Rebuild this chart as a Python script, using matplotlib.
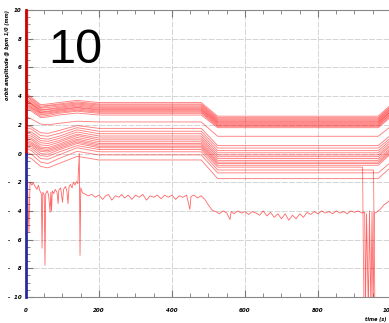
import matplotlib
matplotlib.use('Agg')
import matplotlib.pyplot as plt
from matplotlib.ticker import MultipleLocator, FixedLocator

# breakpoints (time) shared by the smooth orbit traces
xb = [0, 15, 40, 60, 90, 140, 200, 480, 525, 965, 1000]

upper_band = [
    [4.2, 3.9, 3.4, 3.45, 3.55, 3.7, 3.55, 3.55, 2.6, 2.6, 3.4],
    [4.0, 3.8, 3.3, 3.35, 3.45, 3.6, 3.45, 3.45, 2.5, 2.5, 3.3],
    [4.1, 3.7, 3.2, 3.3, 3.38, 3.52, 3.38, 3.38, 2.42, 2.42, 3.25],
    [3.9, 3.6, 3.15, 3.2, 3.3, 3.45, 3.3, 3.3, 2.35, 2.35, 3.15],
    [3.8, 3.5, 3.05, 3.1, 3.22, 3.38, 3.22, 3.22, 2.28, 2.28, 3.1],
    [3.7, 3.45, 3.0, 3.05, 3.15, 3.3, 3.15, 3.15, 2.22, 2.22, 3.0],
    [3.75, 3.4, 2.9, 2.95, 3.08, 3.22, 3.08, 3.08, 2.15, 2.15, 2.95],
    [3.6, 3.3, 2.85, 2.9, 3.02, 3.18, 3.02, 3.02, 2.1, 2.1, 2.9],
    [3.5, 3.2, 2.8, 2.82, 2.95, 3.1, 2.95, 2.95, 2.02, 2.02, 2.8],
    [3.4, 3.15, 2.7, 2.75, 2.88, 3.02, 2.88, 2.88, 1.95, 1.95, 2.75],
    [3.3, 3.05, 2.6, 2.65, 2.8, 2.95, 2.8, 2.8, 1.88, 1.88, 2.65],
    [3.2, 2.95, 2.5, 2.55, 2.68, 2.82, 2.68, 2.68, 1.8, 1.8, 2.55],
    [2.6, 2.4, 2.05, 2.0, 2.1, 2.25, 2.2, 2.2, 1.2, 1.2, 1.9],
]

lower_band = [
    [1.95, 1.85, 1.45, 1.4, 1.6, 1.95, 1.75, 1.75, 0.55, 0.55, 1.3],
    [1.8, 1.7, 1.25, 1.2, 1.4, 1.8, 1.55, 1.55, 0.38, 0.38, 1.1],
    [1.6, 1.5, 1.05, 1.0, 1.2, 1.65, 1.38, 1.38, 0.2, 0.2, 0.95],
    [1.45, 1.35, 0.9, 0.85, 1.05, 1.5, 1.22, 1.22, 0.05, 0.05, 0.8],
    [1.3, 1.2, 0.75, 0.7, 0.9, 1.35, 1.08, 1.08, -0.1, -0.1, 0.65],
    [1.2, 1.05, 0.6, 0.55, 0.78, 1.25, 0.95, 0.95, -0.22, -0.22, 0.55],
    [1.05, 0.95, 0.45, 0.4, 0.65, 1.12, 0.82, 0.82, -0.35, -0.35, 0.4],
    [0.95, 0.8, 0.35, 0.3, 0.55, 1.0, 0.7, 0.7, -0.48, -0.48, 0.3],
    [0.85, 0.7, 0.25, 0.2, 0.45, 0.9, 0.6, 0.6, -0.6, -0.6, 0.2],
    [0.75, 0.6, 0.15, 0.1, 0.35, 0.8, 0.5, 0.5, -0.7, -0.7, 0.1],
    [0.65, 0.5, 0.0, -0.05, 0.25, 0.7, 0.4, 0.4, -0.82, -0.82, 0.0],
    [0.1, -0.05, -0.6, -0.7, -0.35, 0.15, -0.1, -0.1, -1.35, -1.35, -0.6],
    [-0.2, -0.35, -0.9, -1.0, -0.7, -0.2, -0.45, -0.45, -1.75, -1.75, -0.95],
]

# two traces that are lost near the end (beam dump)
lost_x = [[0, 15, 40, 60, 90, 140, 200, 480, 525, 922, 926],
          [0, 15, 40, 60, 90, 140, 200, 480, 525, 952, 956]]
lost_y = [[0.5, 0.35, -0.15, -0.2, 0.1, 0.55, 0.28, 0.28, -0.95, -0.95, -11],
          [0.35, 0.2, -0.35, -0.4, -0.1, 0.4, 0.12, 0.12, -1.15, -1.15, -11]]

noisy_x = [0, 4, 8, 11, 16, 20, 25, 30, 34, 38, 42, 44, 46, 50, 52, 54, 58, 62,
           66, 68, 70, 72, 76, 80, 85, 88, 90, 95, 100, 103, 108, 112, 115, 118,
           122, 126, 130, 134, 138, 142, 146, 148, 150, 155, 160, 170, 180, 190,
           200, 210, 218, 226, 235, 245, 255, 262, 270, 280, 290, 300, 310, 320,
           330, 340, 350, 360, 370, 380, 390, 400, 410, 420, 430, 440, 449, 452,
           460, 470, 480, 490, 500, 510, 520, 530, 540, 550, 559, 562, 570, 580,
           590, 600, 610, 620, 630, 640, 650, 660, 670, 680, 690, 700, 710, 720,
           730, 740, 750, 760, 770, 780, 790, 800, 810, 820, 830, 840, 850, 860,
           870, 880, 890, 900, 910, 920, 928, 930, 933, 938, 941, 945, 948, 951,
           954, 960, 970, 980, 990, 1000]
noisy_y = [-1.6, -1.9, -5.5, -2.0, -2.2, -2.05, -2.3, -2.5, -2.2, -2.6, -2.8,
           -6.6, -2.7, -2.9, -7.8, -2.8, -2.6, -2.9, -4.1, -2.7, -4.0, -2.6,
           -2.8, -2.5, -2.7, -3.5, -2.55, -2.4, -3.4, -2.5, -2.3, -2.6, -3.5,
           -2.3, -2.15, -2.4, -2.0, -2.2, -1.95, -2.1, 0.0, -7.1, -2.4, -2.75,
           -2.8, -2.95, -2.85, -3.05, -2.9, -3.2, -2.95, -2.85, -3.25, -2.95,
           -3.05, -2.85, -3.1, -2.9, -3.2, -2.9, -3.05, -2.85, -3.25, -2.95,
           -3.05, -2.9, -3.15, -2.9, -3.05, -2.9, -3.2, -2.95, -3.05, -2.9, -3.9,
           -3.0, -2.9, -3.1, -2.95, -3.2, -3.6, -3.95, -4.05, -4.2, -4.0, -4.15,
           -4.6, -4.05, -4.2, -4.0, -4.15, -4.05, -4.25, -4.05, -4.15, -4.3,
           -4.0, -4.35, -4.1, -4.45, -4.2, -4.55, -4.2, -4.65, -4.3, -4.55,
           -4.2, -4.45, -4.1, -4.25, -4.05, -4.2, -4.0, -4.15, -4.05, -4.2,
           -4.0, -4.15, -4.05, -4.2, -4.0, -4.1, -4.0, -4.15, -4.1, -11, -4.2,
           -11, -4.0, -11, -4.1, -11, -4.15, -4.1, -3.9, -3.6, -3.4, -3.2]

xticks = [0, 200, 400, 600, 800, 1000]
yticks = [10, 8, 6, 4, 2, 0, -2, -4, -6, -8, -10]
ytick_labels = ['10', '8', '6', '4', '2', '0',
                '-    2', '-    4', '-    6', '-    8', '-  10']

fig = plt.figure(figsize=(3.89, 3.23), dpi=100)
ax = fig.add_axes([26 / 389, 1 - 297 / 323, 365 / 389, 287 / 323])

line_kw = dict(color='red', lw=0.65, alpha=0.5)
for ys in upper_band + lower_band:
    ax.plot(xb, ys, **line_kw)
for xs, ys in zip(lost_x, lost_y):
    ax.plot(xs, ys, **line_kw)
ax.plot(noisy_x, noisy_y, color='red', lw=0.6, alpha=0.6)

ax.set_xlim(0, 1000)
ax.set_ylim(-10, 10)
ax.xaxis.set_major_locator(FixedLocator(xticks))
ax.xaxis.set_minor_locator(MultipleLocator(50))
ax.yaxis.set_major_locator(FixedLocator(yticks))
ax.yaxis.set_minor_locator(MultipleLocator(0.5))
ax.set_yticklabels(ytick_labels)
ax.tick_params(which='both', direction='in', top=True, right=False,
               colors='#777777', labelsize=4)
ax.tick_params(which='major', length=5, width=0.8, pad=8)
ax.tick_params(which='minor', length=3, width=0.6)
for lab in ax.get_xticklabels() + ax.get_yticklabels():
    lab.set_fontstyle('italic')
    lab.set_fontweight('bold')
    lab.set_color('black')
ax.tick_params(axis='y', which='major', pad=3)

ax.grid(True, which='major', color='#d4d4d4', lw=0.7, dashes=(6, 1.5))
ax.set_axisbelow(True)
for s in ['top', 'bottom', 'right']:
    ax.spines[s].set_color('#888888')
    ax.spines[s].set_linewidth(0.8)
ax.spines['left'].set_visible(False)
# coloured left axis: red above zero, blue below
ax.plot([0, 0], [0, 10], color='#cc0000', lw=2, clip_on=False, zorder=5)
ax.plot([0, 0], [-10, 0], color='#2a2aa0', lw=2, clip_on=False, zorder=5)
ax.axvspan(0, 8, ymin=0.7, ymax=1.0, color='#ffb0b0', alpha=0.4, lw=0)

ax.text(0.06, 0.86, '10', transform=ax.transAxes, fontsize=35,
        family='Liberation Sans', va='center', ha='left')

fig.text(8 / 389, 1 - 10 / 323, 'orbit amplitude @ bpm 1/0 (mm)',
         rotation=90, va='top', ha='center', fontsize=3.5,
         fontweight='bold', fontstyle='italic')
fig.text(376 / 389, 1 - 320 / 323, 'time (s)', va='center', ha='center',
         fontsize=3.5, fontweight='bold', fontstyle='italic')

fig.savefig('out.png', dpi=100)
